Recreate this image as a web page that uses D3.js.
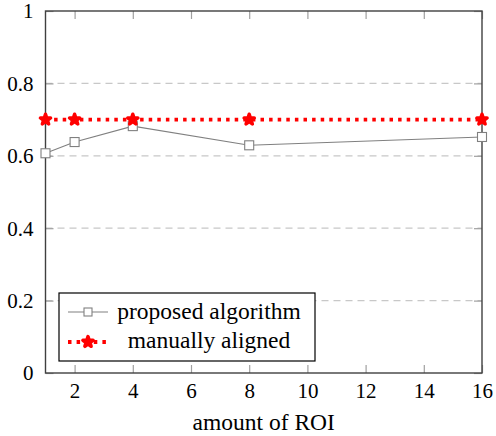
<!DOCTYPE html>
<html>
<head>
<meta charset="utf-8">
<script src="https://cdn.jsdelivr.net/npm/d3@7"></script>
</head>
<body style="margin:0;background:#fff">
<svg width="496" height="436"></svg>
<script>
var roiCounts = [1, 2, 4, 8, 16];
var proposed  = [0.607, 0.638, 0.682, 0.629, 0.652];
var manual    = [0.70, 0.70, 0.70, 0.70, 0.70];
var xTicks    = [2, 4, 6, 8, 10, 12, 14, 16];
var yTicks    = [0, 0.2, 0.4, 0.6, 0.8, 1];
var seriesNames = ["proposed algorithm", "manually aligned"];

var serif = "'Liberation Serif', 'Times New Roman', serif";

var svg = d3.select("svg"),
    margin = {top: 11, right: 14, bottom: 63, left: 45.5},
    width  = 496 - margin.left - margin.right,
    height = 436 - margin.top - margin.bottom;

var x = d3.scaleLinear().domain([1, 16]).range([0, width]),
    y = d3.scaleLinear().domain([0, 1]).range([height, 0]);

var g = svg.append("g")
    .attr("transform", "translate(" + margin.left + "," + margin.top + ")");

// dashed grid
g.selectAll(".grid")
  .data(yTicks.filter(function(d) { return d > 0 && d < 1; }))
  .enter().append("line")
    .attr("x1", 0).attr("x2", width)
    .attr("y1", function(d) { return y(d); })
    .attr("y2", function(d) { return y(d); })
    .attr("stroke", "#c8c8c8")
    .attr("stroke-width", 1.2)
    .attr("stroke-dasharray", "7,5");

// axes, ticks point inward and are mirrored on top/right
var fmt = function(d) { return d === 0 || d === 1 ? String(d) : d3.format(".1f")(d); };

var xb = g.append("g").attr("transform", "translate(0," + height + ")")
  .call(d3.axisBottom(x).tickValues(xTicks).tickSize(-8).tickPadding(10));
var xt = g.append("g")
  .call(d3.axisTop(x).tickValues(xTicks).tickSize(-8).tickFormat(""));
var yl = g.append("g")
  .call(d3.axisLeft(y).tickValues(yTicks).tickSize(-8).tickPadding(12).tickFormat(fmt));
var yr = g.append("g").attr("transform", "translate(" + width + ",0)")
  .call(d3.axisRight(y).tickValues(yTicks).tickSize(-8).tickFormat(""));

[xb, xt, yl, yr].forEach(function(a) {
  a.select(".domain").remove();
  a.selectAll(".tick line").attr("stroke", "#a0a0a0").attr("stroke-width", 1.2);
  a.selectAll("text").style("font-family", serif).style("font-size", "21px").attr("fill", "#000");
});
yl.selectAll("text").attr("dy", "0.33em");

g.append("rect")
  .attr("width", width).attr("height", height)
  .attr("fill", "none").attr("stroke", "#404040").attr("stroke-width", 1.4);

var line = d3.line()
  .x(function(d) { return x(d[0]); })
  .y(function(d) { return y(d[1]); });

var propData = roiCounts.map(function(r, i) { return [r, proposed[i]]; });
var manData  = roiCounts.map(function(r, i) { return [r, manual[i]]; });

// proposed algorithm
g.append("path")
  .datum(propData)
  .attr("d", line)
  .attr("fill", "none")
  .attr("stroke", "#808080")
  .attr("stroke-width", 1.1);

g.selectAll(".sq")
  .data(propData)
  .enter().append("rect")
    .attr("x", function(d) { return x(d[0]) - 4.5; })
    .attr("y", function(d) { return y(d[1]) - 4.5; })
    .attr("width", 9).attr("height", 9)
    .attr("fill", "#fff")
    .attr("stroke", "#808080")
    .attr("stroke-width", 1.1);

// manually aligned
g.append("path")
  .datum(manData)
  .attr("d", line)
  .attr("fill", "none")
  .attr("stroke", "#ff0000")
  .attr("stroke-width", 3.8)
  .attr("stroke-dasharray", "3.5,5.1");

var star = d3.symbol().type(d3.symbolStar).size(32);
g.selectAll(".st")
  .data(manData)
  .enter().append("path")
    .attr("d", star)
    .attr("transform", function(d) { return "translate(" + x(d[0]) + "," + y(d[1]) + ")"; })
    .attr("fill", "#ff0000")
    .attr("stroke", "#ff0000")
    .attr("stroke-width", 3.5)
    .attr("stroke-linejoin", "round");

// axis label
svg.append("text")
  .attr("x", margin.left + width / 2)
  .attr("y", 430)
  .attr("text-anchor", "middle")
  .style("font-family", serif)
  .style("font-size", "23.5px")
  .text("amount of ROI");

// legend
var lg = svg.append("g").attr("transform", "translate(59,293)");
lg.append("rect")
  .attr("width", 256).attr("height", 68)
  .attr("fill", "#fff").attr("stroke", "#000").attr("stroke-width", 1.2);

lg.append("line").attr("x1", 9).attr("x2", 49).attr("y1", 19).attr("y2", 19)
  .attr("stroke", "#808080").attr("stroke-width", 1.1);
lg.append("rect").attr("x", 25).attr("y", 15).attr("width", 8).attr("height", 8)
  .attr("fill", "#fff").attr("stroke", "#808080").attr("stroke-width", 1.1);

lg.append("line").attr("x1", 9).attr("x2", 49).attr("y1", 49).attr("y2", 49)
  .attr("stroke", "#ff0000").attr("stroke-width", 3.8).attr("stroke-dasharray", "3.5,5.1");
lg.append("path").attr("d", star).attr("transform", "translate(29,49)")
  .attr("fill", "#ff0000").attr("stroke", "#ff0000").attr("stroke-width", 3.5)
  .attr("stroke-linejoin", "round");

lg.selectAll(".lt")
  .data(seriesNames)
  .enter().append("text")
    .attr("x", 150)
    .attr("y", function(d, i) { return 26 + i * 29; })
    .attr("text-anchor", "middle")
    .style("font-family", serif)
    .style("font-size", "23.5px")
    .text(function(d) { return d; });
</script>
</body>
</html>
